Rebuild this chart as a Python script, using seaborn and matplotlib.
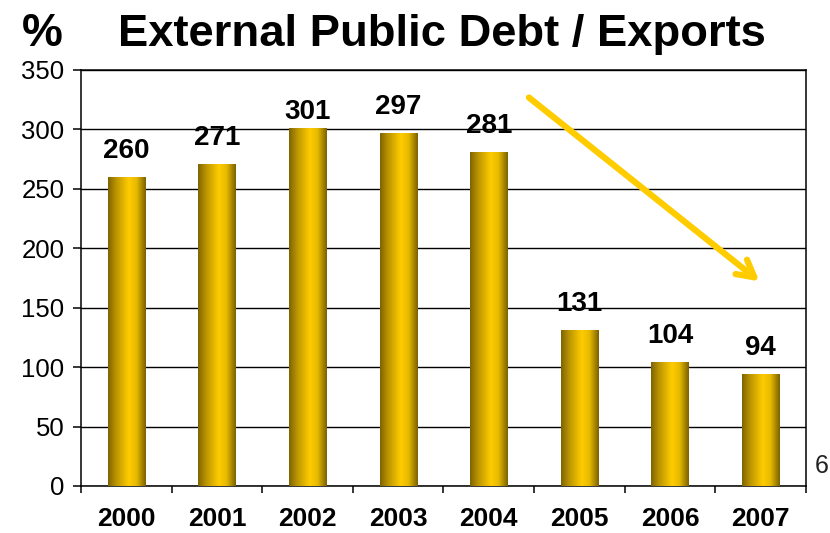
import numpy as np
import pandas as pd
import matplotlib
matplotlib.use("Agg")
import matplotlib.pyplot as plt
from matplotlib.colors import LinearSegmentedColormap
import seaborn as sns

years = ["2000", "2001", "2002", "2003", "2004", "2005", "2006", "2007"]
debt_to_exports = [260, 271, 301, 297, 281, 131, 104, 94]
y_ticks = [0, 50, 100, 150, 200, 250, 300, 350]

sns.set_theme(style="white")
plt.rcParams["font.family"] = ["Liberation Sans", "DejaVu Sans"]
plt.rcParams["text.color"] = "black"
plt.rcParams["xtick.labelcolor"] = "black"
plt.rcParams["ytick.labelcolor"] = "black"

df = pd.DataFrame({"year": years, "ratio": debt_to_exports})

fig = plt.figure(figsize=(8.3, 5.33), dpi=100)
ax = fig.add_axes([0.0976, 0.0882, 0.8734, 0.7805])

sns.barplot(data=df, x="year", y="ratio", ax=ax, width=0.41,
            color="#FFCC00", saturation=1, edgecolor="none")

# horizontal gold gradient inside every bar
gold = LinearSegmentedColormap.from_list(
    "gold", [(0.0, "#7E6300"), (0.2, "#B89200"), (0.55, "#FFCC00"),
             (0.75, "#E8BA00"), (1.0, "#7A6000")])
grad = np.linspace(0, 1, 256).reshape(1, -1)
for patch in list(ax.patches):
    x0, y0 = patch.get_x(), patch.get_y()
    w, h = patch.get_width(), patch.get_height()
    im = ax.imshow(grad, cmap=gold, aspect="auto", interpolation="bicubic",
                   extent=(x0, x0 + w, y0, y0 + h), zorder=3)
    im.set_clip_path(patch)
    patch.set_facecolor("none")

ax.set_xlim(-0.5, len(years) - 0.5)
ax.set_ylim(0, 350)
ax.set_yticks(y_ticks)
ax.set_yticklabels([str(t) for t in y_ticks], fontsize=18.5)
ax.yaxis.grid(True, color="black", linewidth=1.0)
ax.set_axisbelow(True)

for s in ax.spines.values():
    s.set_visible(True)
    s.set_color("black")
    s.set_linewidth(1.1)

ax.tick_params(axis="y", direction="out", length=6, width=1.1, color="black",
               left=True, pad=6)
ax.tick_params(axis="x", which="major", length=0, pad=15)
ax.set_xticks(np.arange(-0.5, len(years)), minor=True)
ax.tick_params(axis="x", which="minor", direction="out", length=5, width=1.1,
               color="black", bottom=True)
for lbl in ax.get_xticklabels():
    lbl.set_fontsize(19)
    lbl.set_fontweight("bold")
ax.set_xlabel("")
ax.set_ylabel("")

# value labels above bars (2002 sits closer to fit under the top line)
label_offset = {2: 6.5}
for i, v in enumerate(debt_to_exports):
    ax.annotate(str(v), xy=(i, v), xytext=(0, label_offset.get(i, 13.7)),
                textcoords="offset points", ha="center", va="baseline",
                fontsize=20, fontweight="bold", color="black", zorder=5)

# downward trend arrow
ax.annotate("", xy=(0.9358, 0.492), xytext=(0.6179, 0.9338),
            xycoords="axes fraction", textcoords="axes fraction",
            arrowprops=dict(arrowstyle="->,head_length=1.0,head_width=0.55",
                            color="#FFCC00", lw=4.5, shrinkA=0, shrinkB=0,
                            capstyle="round"),
            zorder=6)

fig.text(0.0265, 0.936, "%", fontsize=33, fontweight="bold",
         va="center", ha="left")
fig.text(0.1422, 0.936, "External Public Debt / Exports", fontsize=32.7,
         fontweight="bold", va="center", ha="left")
fig.text(0.982, 0.126, "6", fontsize=18, color="#222222", ha="left",
         va="center")

fig.savefig("out.png", dpi=100)
